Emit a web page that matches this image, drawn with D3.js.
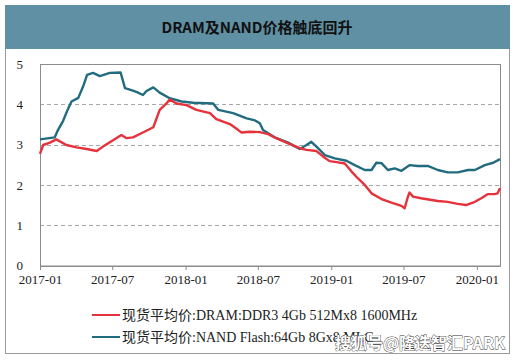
<!DOCTYPE html>
<html>
<head>
<meta charset="utf-8">
<script src="https://cdn.jsdelivr.net/npm/d3@7"></script>
<style>
  body { margin: 0; background: #fff; }
</style>
</head>
<body>
<div id="chart"></div>
<script>
// DRAM spot average price (DDR3 4Gb 512Mx8 1600MHz)
var dramDates = ["2017-01-01","2017-01-09","2017-01-26","2017-02-11","2017-03-08","2017-04-03","2017-04-28","2017-05-23","2017-06-08","2017-07-03","2017-07-24","2017-08-06","2017-08-22","2017-09-16","2017-10-12","2017-10-28","2017-11-14","2017-11-22","2017-12-09","2018-01-03","2018-01-28","2018-03-03","2018-03-19","2018-04-22","2018-05-13","2018-05-21","2018-06-11","2018-07-06","2018-07-27","2018-08-12","2018-09-15","2018-10-14","2018-10-31","2018-11-25","2018-12-12","2018-12-28","2019-01-18","2019-02-04","2019-02-21","2019-03-09","2019-03-26","2019-04-12","2019-05-07","2019-06-01","2019-06-26","2019-07-04","2019-07-11","2019-07-16","2019-07-25","2019-08-14","2019-09-25","2019-10-20","2019-11-14","2019-12-05","2019-12-27","2020-01-12","2020-01-28","2020-02-14","2020-02-22","2020-02-28"];
var dramValues = [2.77,2.99,3.05,3.13,2.99,2.93,2.89,2.84,2.95,3.11,3.24,3.16,3.18,3.30,3.43,3.86,4.02,4.12,4.02,3.98,3.86,3.78,3.63,3.51,3.36,3.30,3.32,3.31,3.26,3.18,3.03,2.91,2.87,2.84,2.70,2.59,2.56,2.53,2.33,2.16,2.00,1.79,1.65,1.56,1.48,1.42,1.67,1.81,1.71,1.67,1.60,1.58,1.53,1.50,1.58,1.67,1.77,1.77,1.79,1.92];

// NAND spot average price (64Gb 8Gx8 MLC)
var nandDates = ["2017-01-01","2017-02-07","2017-02-15","2017-02-28","2017-03-12","2017-03-21","2017-04-07","2017-04-19","2017-04-29","2017-05-14","2017-05-31","2017-06-25","2017-07-22","2017-08-02","2017-08-18","2017-09-01","2017-09-16","2017-09-25","2017-10-12","2017-10-28","2017-11-22","2017-12-22","2018-01-20","2018-03-11","2018-03-24","2018-04-30","2018-06-03","2018-06-24","2018-07-06","2018-07-14","2018-08-12","2018-09-15","2018-10-14","2018-10-31","2018-11-12","2018-11-25","2018-12-16","2019-01-10","2019-02-08","2019-03-01","2019-03-26","2019-04-12","2019-04-24","2019-05-07","2019-05-23","2019-06-09","2019-06-26","2019-07-16","2019-08-06","2019-08-31","2019-09-25","2019-10-20","2019-11-14","2019-12-10","2019-12-27","2020-01-21","2020-02-11","2020-02-28"];
var nandValues = [3.13,3.18,3.36,3.59,3.88,4.07,4.16,4.44,4.73,4.78,4.70,4.78,4.79,4.40,4.35,4.30,4.23,4.33,4.42,4.29,4.15,4.07,4.04,4.02,3.86,3.78,3.65,3.60,3.53,3.36,3.18,3.05,2.89,2.99,3.07,2.95,2.74,2.66,2.60,2.49,2.37,2.37,2.55,2.54,2.37,2.41,2.35,2.49,2.47,2.47,2.37,2.31,2.31,2.37,2.37,2.49,2.55,2.64];

var xTicks = ["2017-01","2017-07","2018-01","2018-07","2019-01","2019-07","2020-01"];
var yTicks = [0, 1, 2, 3, 4, 5];
var seriesNames = ["现货平均价:DRAM:DDR3 4Gb 512Mx8 1600MHz", "现货平均价:NAND Flash:64Gb 8Gx8 MLC"];
var seriesColors = ["#e5323b", "#216c7f"];
var title = "DRAM及NAND价格触底回升";

var W = 515, H = 364;
var serif = "'Liberation Serif', 'Noto Sans CJK SC', serif";
var parse = d3.timeParse("%Y-%m-%d");
var parseMonth = d3.timeParse("%Y-%m");

var dram = dramDates.map(function (d, i) { return { date: parse(d), value: dramValues[i] }; });
var nand = nandDates.map(function (d, i) { return { date: parse(d), value: nandValues[i] }; });

var svg = d3.select("#chart").append("svg")
    .attr("width", W)
    .attr("height", H);

// outer frame + header band
svg.append("rect")
    .attr("x", 5.5).attr("y", 5.5)
    .attr("width", 504).attr("height", 348)
    .attr("fill", "#fff")
    .attr("stroke", "#9a9a9a");
svg.append("rect")
    .attr("x", 5).attr("y", 5)
    .attr("width", 505).attr("height", 44)
    .attr("fill", "#5f90a4");
svg.append("text")
    .attr("x", 257).attr("y", 33)
    .attr("text-anchor", "middle")
    .attr("font-family", "'Noto Sans CJK SC', sans-serif")
    .attr("font-weight", "bold")
    .attr("font-size", 15)
    .attr("fill", "#111")
    .text(title);

var plot = { left: 40, right: 500, top: 64, bottom: 265.5 };

var x = d3.scaleTime()
    .domain([parse("2017-01-01"), parse("2020-02-28")])
    .range([plot.left, plot.right]);
var y = d3.scaleLinear()
    .domain([0, 5])
    .range([plot.bottom, plot.top]);

// gridlines
svg.append("g")
    .selectAll("line")
    .data(yTicks.filter(function (t) { return t > 0 && t < 5; }))
    .enter().append("line")
    .attr("x1", plot.left).attr("x2", plot.right)
    .attr("y1", function (t) { return Math.round(y(t)) + 0.5; })
    .attr("y2", function (t) { return Math.round(y(t)) + 0.5; })
    .attr("stroke", "#a8a8a8")
    .attr("stroke-dasharray", "4,3");

// plot border
svg.append("rect")
    .attr("x", plot.left + 0.5).attr("y", plot.top + 0.5)
    .attr("width", plot.right - plot.left).attr("height", plot.bottom - plot.top)
    .attr("fill", "none")
    .attr("stroke", "#8c8c8c");

// x axis
var xAxis = d3.axisBottom(x)
    .tickValues(xTicks.map(parseMonth))
    .tickFormat(d3.timeFormat("%Y-%m"))
    .tickSize(4)
    .tickSizeOuter(0);
var gx = svg.append("g")
    .attr("transform", "translate(0," + (plot.bottom + 0.5) + ")")
    .call(xAxis)
    .attr("font-family", serif)
    .attr("font-size", 13);
gx.select(".domain").attr("stroke", "#8c8c8c");
gx.selectAll(".tick line").attr("stroke", "#8c8c8c");
gx.selectAll(".tick text")
    .attr("y", 9)
    .attr("fill", "#222");

// y axis labels
var yAxis = d3.axisLeft(y).tickValues(yTicks).tickFormat(d3.format("d")).tickSize(0).tickPadding(17);
var gy = svg.append("g")
    .attr("transform", "translate(" + plot.left + ",0)")
    .call(yAxis)
    .attr("font-family", serif)
    .attr("font-size", 13);
gy.select(".domain").remove();
gy.selectAll(".tick text")
    .attr("fill", "#222");

// series
var line = d3.line()
    .x(function (d) { return x(d.date); })
    .y(function (d) { return y(d.value); });

svg.append("path")
    .datum(nand)
    .attr("d", line)
    .attr("fill", "none")
    .attr("stroke", seriesColors[1])
    .attr("stroke-width", 2.4)
    .attr("stroke-linejoin", "round");
svg.append("path")
    .datum(dram)
    .attr("d", line)
    .attr("fill", "none")
    .attr("stroke", seriesColors[0])
    .attr("stroke-width", 2.4)
    .attr("stroke-linejoin", "round");

// legend
var legend = svg.append("g")
    .selectAll("g")
    .data(seriesNames)
    .enter().append("g")
    .attr("transform", function (d, i) { return "translate(92," + (315 + i * 22) + ")"; });
legend.append("line")
    .attr("x1", 0).attr("x2", 28)
    .attr("stroke", function (d, i) { return seriesColors[i]; })
    .attr("stroke-width", 2);
legend.append("text")
    .attr("x", 30).attr("y", 5)
    .attr("font-family", serif)
    .attr("font-size", 14)
    .attr("fill", "#222")
    .text(function (d) { return d; });

// watermark
svg.append("text")
    .attr("x", 505).attr("y", 349)
    .attr("text-anchor", "end")
    .attr("font-family", "'Noto Sans CJK SC', sans-serif")
    .attr("font-weight", "bold")
    .attr("font-size", 16)
    .attr("fill", "#fff")
    .attr("stroke", "#333")
    .attr("stroke-width", 0.8)
    .attr("paint-order", "stroke")
    .text("搜狐号@隆迭智汇PARK");
</script>
</body>
</html>
